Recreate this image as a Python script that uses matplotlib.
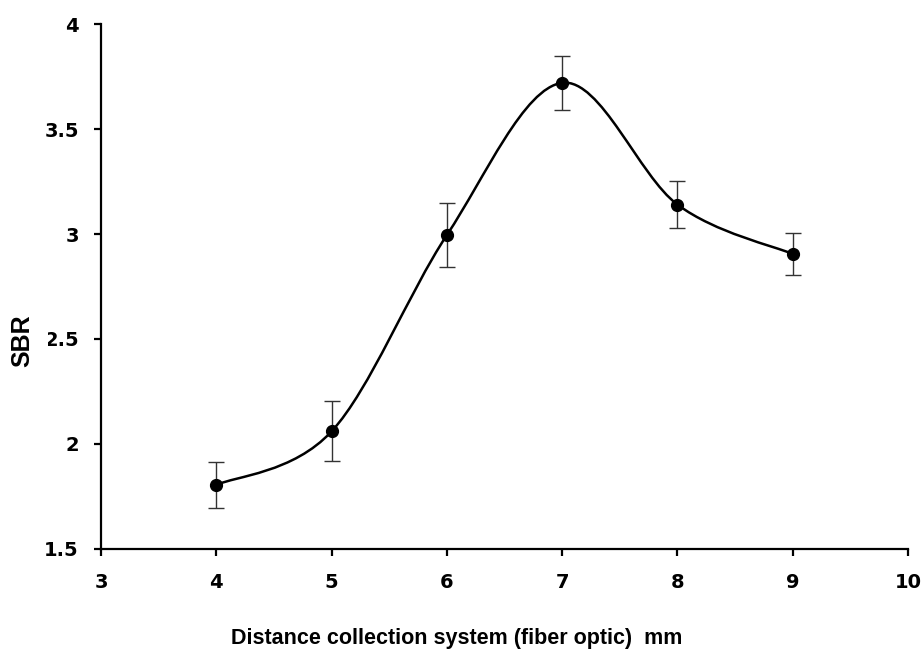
import matplotlib
matplotlib.use("Agg")
import matplotlib.pyplot as plt
from matplotlib.path import Path
from matplotlib.patches import PathPatch

plt.rcParams['font.family'] = ['Liberation Sans', 'DejaVu Sans']
plt.rcParams['font.weight'] = 'bold'

# distance of the collection system (mm) and measured SBR
distance = [4, 5, 6, 7, 8, 9]
sbr = [1.805, 2.06, 2.995, 3.72, 3.14, 2.905]
sbr_err = [0.11, 0.143, 0.152, 0.128, 0.112, 0.10]

x_ticks = [3, 4, 5, 6, 7, 8, 9, 10]
y_ticks = [1.5, 2, 2.5, 3, 3.5, 4]
y_tick_labels = ['1.5', '2', '2.5', '3', '3.5', '4']


def smooth_path(xs, ys):
    """Excel-style smoothed line: cubic Bezier segments, Catmull-Rom tangents."""
    pts = list(zip(xs, ys))
    verts = [pts[0]]
    codes = [Path.MOVETO]
    n = len(pts)
    for i in range(n - 1):
        p0 = pts[i - 1] if i > 0 else pts[i]
        p1 = pts[i]
        p2 = pts[i + 1]
        p3 = pts[i + 2] if i + 2 < n else pts[i + 1]
        c1 = (p1[0] + (p2[0] - p0[0]) / 6, p1[1] + (p2[1] - p0[1]) / 6)
        c2 = (p2[0] - (p3[0] - p1[0]) / 6, p2[1] - (p3[1] - p1[1]) / 6)
        verts += [c1, c2, p2]
        codes += [Path.CURVE4] * 3
    return Path(verts, codes)


fig = plt.figure(figsize=(9.23, 6.53), dpi=100)
ax = fig.add_axes([0.1094, 0.1593, 0.8744, 0.8039])

ax.add_patch(PathPatch(smooth_path(distance, sbr), facecolor='none',
                       edgecolor='black', lw=1.8, zorder=2))
ax.errorbar(distance, sbr, yerr=sbr_err, fmt='o', color='black',
            ecolor='#333333', elinewidth=1.0, capsize=5.5, capthick=1.0,
            markersize=8.5, zorder=3)

ax.set_xlim(3, 10)
ax.set_ylim(1.5, 4)
ax.set_xticks(x_ticks)
ax.set_yticks(y_ticks)
ax.set_yticklabels(y_tick_labels)

for side in ['top', 'right']:
    ax.spines[side].set_visible(False)
for side in ['left', 'bottom']:
    ax.spines[side].set_linewidth(1.6)

ax.tick_params(axis='both', direction='out', length=5, width=1.6,
               labelsize=14)
ax.tick_params(axis='x', pad=12)
ax.tick_params(axis='y', pad=11)
for lbl in ax.get_xticklabels() + ax.get_yticklabels():
    lbl.set_family('DejaVu Sans')

fig.text(0.495, 0.014, 'Distance collection system (fiber optic)  mm',
         ha='center', va='baseline', fontsize=15.5, fontweight='bold')
# the label box in the original clips the left edge of the "2.5" tick label
fig.text(0.024, 0.479, 'SBR', rotation=90, ha='center', va='center',
         fontsize=18, fontweight='bold',
         bbox=dict(boxstyle='square,pad=0.56', facecolor='white',
                   edgecolor='none'))

fig.savefig('out.png', dpi=100)
